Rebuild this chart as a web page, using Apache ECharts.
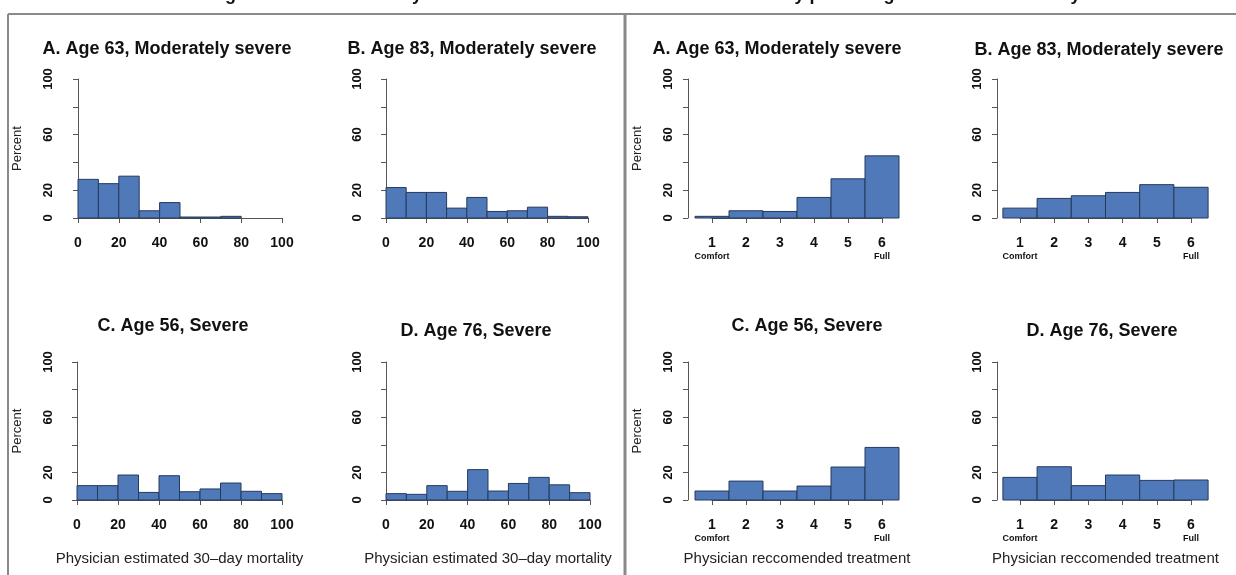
<!DOCTYPE html>
<html><head><meta charset="utf-8">
<script src="https://cdn.jsdelivr.net/npm/echarts@6/dist/echarts.min.js"></script>
<style>html,body{margin:0;padding:0;background:#fff}#c{width:1236px;height:575px}</style>
</head><body><div id="c"></div>
<script>
// ---- data ----
const binEdges = [0,10,20,30,40,50,60,70,80,90,100];
const mortA = [27.8,24.7,30.1,5.2,11.1,0.7,0.7,1.2,0,0];
const mortB = [21.9,18.4,18.4,7.1,14.8,4.7,5.2,7.8,1.2,0.9];
const mortC = [10.4,10.4,18.1,5.5,17.6,6.0,8.0,12.3,6.3,4.6];
const mortD = [4.6,4.1,10.4,6.3,22.0,6.5,12.0,16.4,11.0,5.3];
const treatCats = [1,2,3,4,5,6];
const treatA = [1.2,5.2,4.7,14.8,28.2,44.7];
const treatB = [7.1,14.1,16.0,18.4,24.0,22.1];
const treatC = [6.5,13.7,6.5,10.1,23.9,38.1];
const treatD = [16.4,24.1,10.4,18.1,14.2,14.5];
const yTicks = [0,20,40,60,80,100];
const yTickLabels = ['0','20','','60','','100'];
const mortTickLabels = ['0','20','40','60','80','100'];
const treatTickLabels = ['1','2','3','4','5','6'];
const treatEndLabels = {1:'Comfort', 6:'Full'};
const panelTitles = ['A. Age 63, Moderately severe','B. Age 83, Moderately severe','C. Age 56, Severe','D. Age 76, Severe'];
const sectionTitles = ['Age and clinical severity','By patient age and clinical severity'];
const yName = 'Percent';
const xNameMort = 'Physician estimated 30\u2013day mortality';
const xNameTreat = 'Physician reccomended treatment';

// ---- layout ----
const FILL = '#4f79b9', STROKE = '#263a5c', AX = '#555', TXT = '#111';
const FONT = '"Liberation Sans", Arial, sans-serif';
const panels = [
  {kind:'m', vals:mortA, l:78,  r:282,  t:79,  h:139, yo:10, tx:167,  ty:40, title:0, showY:true,  showX:false},
  {kind:'m', vals:mortB, l:386, r:588,  t:79,  h:139, yo:9,  tx:472,  ty:40, title:1, showY:false, showX:false},
  {kind:'m', vals:mortC, l:77,  r:282,  t:362, h:138, yo:9,  tx:173,  ty:317,title:2, showY:true,  showX:true},
  {kind:'m', vals:mortD, l:386, r:590,  t:362, h:138, yo:9,  tx:476,  ty:322,title:3, showY:false, showX:true},
  {kind:'t', vals:treatA,l:712, r:882,  t:79,  h:139, yo:24, tx:777,  ty:40, title:0, showY:true,  showX:false},
  {kind:'t', vals:treatB,l:1020,r:1191, t:79,  h:139, yo:23, tx:1099, ty:41, title:1, showY:false, showX:false},
  {kind:'t', vals:treatC,l:712, r:882,  t:362, h:138, yo:24, tx:807,  ty:317,title:2, showY:true,  showX:true},
  {kind:'t', vals:treatD,l:1020,r:1191, t:362, h:138, yo:23, tx:1102, ty:322,title:3, showY:false, showX:true}
];

const grid=[], xAxis=[], yAxis=[], series=[], title=[];
function renderBar(params, api){
  const x0 = api.value(0), x1 = api.value(1), v = api.value(2);
  if (!v) return null;
  const p0 = api.coord([x0, v]), p1 = api.coord([x1, 0]);
  return {type:'rect', shape:{x:p0[0], y:p0[1], width:p1[0]-p0[0], height:p1[1]-p0[1]},
          style:{fill:FILL, stroke:STROKE, lineWidth:1}};
}
panels.forEach((p,i)=>{
  grid.push({left:p.l, top:p.t, width:p.r-p.l, height:p.h, containLabel:false});
  const isM = p.kind==='m';
  xAxis.push({
    type:'value', gridIndex:i, min:isM?0:1, max:isM?100:6, interval:isM?20:1,
    position:'bottom', offset:5,
    axisLine:{show:true, lineStyle:{color:AX, width:1}},
    axisTick:{show:true, length:5, lineStyle:{color:AX}},
    splitLine:{show:false},
    axisLabel:{
      margin:13, color:TXT, fontFamily:FONT, fontWeight:'bold', fontSize:14,
      formatter:(v)=>{
        if (isM) { const k = binEdges.indexOf(v); return k>=0 ? mortTickLabels[k/2] : ''; }
        const k = treatCats.indexOf(v); if (k<0) return '';
        const end = treatEndLabels[v];
        return '{n|'+treatTickLabels[k]+'}' + (end ? '\n{s|'+end+'}' : '\n{s| }');
      },
      rich: isM ? undefined : {
        n:{fontFamily:FONT, fontWeight:'bold', fontSize:14, color:TXT, lineHeight:15},
        s:{fontFamily:FONT, fontWeight:'bold', fontSize:9, color:TXT, lineHeight:12}
      }
    },
    name: p.showX ? (isM?xNameMort:xNameTreat) : '',
    nameLocation:'middle', nameGap: 46,
    nameTextStyle:{fontFamily:FONT, fontSize:15, color:'#222'}
  });
  yAxis.push({
    type:'value', gridIndex:i, min:0, max:100, interval:20, offset:p.yo,
    axisLine:{show:true, lineStyle:{color:AX, width:1}},
    axisTick:{show:true, length:5, lineStyle:{color:AX}},
    splitLine:{show:false},
    axisLabel:{
      rotate:90, margin:13, color:TXT, fontFamily:FONT, fontWeight:'bold', fontSize:13,
      formatter:(v)=>{ const k = yTicks.indexOf(v); return k>=0 ? yTickLabels[k] : ''; }
    },
    name: p.showY ? yName : '', nameLocation:'middle', nameGap:44, nameRotate:90,
    nameTextStyle:{fontFamily:FONT, fontSize:13, color:'#222'}
  });
  const data = isM
    ? p.vals.map((v,k)=>[binEdges[k], binEdges[k+1], v])
    : p.vals.map((v,k)=>[treatCats[k]-0.5, treatCats[k]+0.5, v]);
  series.push({type:'custom', xAxisIndex:i, yAxisIndex:i, renderItem:renderBar, clip:false,
    encode:{x:[0,1], y:2}, data:data, silent:true});
  title.push({text:panelTitles[p.title], left:p.tx, top:p.ty, textAlign:'center', padding:0,
    textStyle:{fontFamily:FONT, fontWeight:'bold', fontSize:18, color:TXT}});
});

const chart = echarts.init(document.getElementById('c'), null, {renderer:'canvas'});
chart.setOption({
  animation:false, backgroundColor:'#fff',
  title, grid, xAxis, yAxis, series,
  graphic:[
    {type:'line', shape:{x1:8,y1:14,x2:1236,y2:14}, style:{stroke:'#8a8a8a', lineWidth:2}},
    {type:'line', shape:{x1:8,y1:14,x2:8,y2:575}, style:{stroke:'#8a8a8a', lineWidth:2}},
    {type:'line', shape:{x1:625,y1:14,x2:625,y2:575}, style:{stroke:'#8a8a8a', lineWidth:3}},
    {type:'text', x:317, y:4, style:{text:sectionTitles[0], align:'center', verticalAlign:'bottom',
      font:'bold 18px '+FONT, fill:TXT}},
    {type:'text', x:931, y:4, style:{text:sectionTitles[1], align:'center', verticalAlign:'bottom',
      font:'bold 18px '+FONT, fill:TXT}}
  ]
});
</script></body></html>
